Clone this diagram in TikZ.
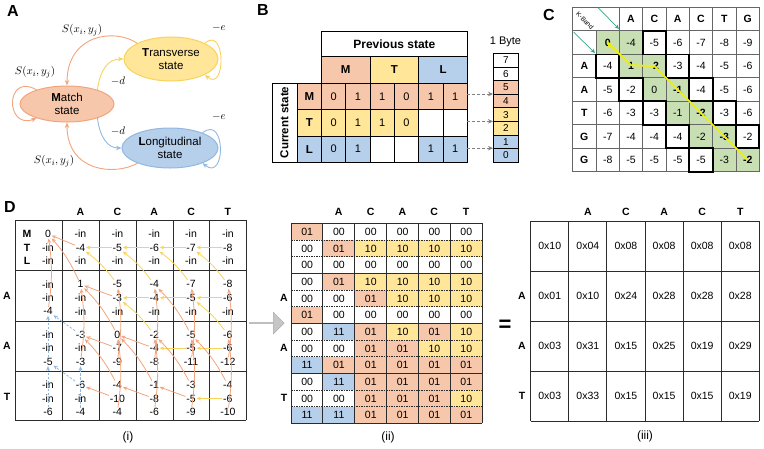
\documentclass[tikz,border=0pt]{standalone}
\usepackage{fontspec}
\setmainfont{Liberation Sans}
\usetikzlibrary{arrows.meta,shapes.geometric,shapes.arrows,calc}
\definecolor{ofill}{HTML}{F7C7AB}
\definecolor{yfill}{HTML}{FFE699}
\definecolor{bfill}{HTML}{B6CFEA}
\definecolor{gfill}{HTML}{C8DFB4}
\definecolor{oline}{HTML}{F2A47C}
\definecolor{yline}{HTML}{F8D35C}
\definecolor{bline}{HTML}{92B8E0}
\definecolor{kgreen}{HTML}{35A58A}
\definecolor{gline}{HTML}{2B2B2B}
\definecolor{tracec}{HTML}{F0F000}
\begin{document}
\begin{tikzpicture}[x=1pt,y=-1pt,
  lbl/.style={font=\fontsize{16}{16}\selectfont\bfseries, inner sep=0pt},
  ell/.style={ellipse, inner sep=0pt, line width=1pt, align=center, font=\fontsize{11.5}{13}\selectfont},
  mlab/.style={font=\fontsize{11}{13}\selectfont, inner sep=1pt},
  oarr/.style={draw=oline, line width=0.9pt, -{Stealth[length=5.5pt,width=4.5pt]}},
  yarr/.style={draw=yline, line width=0.9pt, -{Stealth[length=5.5pt,width=4.5pt]}},
  barr/.style={draw=bline, line width=0.9pt, -{Stealth[length=5.5pt,width=4.5pt]}},
  bc/.style={draw=black, line width=0.8pt, inner sep=0pt, anchor=north west, font=\fontsize{11}{13}\selectfont, minimum width=24.33pt, minimum height=26.3pt},
  bh/.style={bc, font=\fontsize{11.5}{13}\selectfont\bfseries},
  byc/.style={draw=black, line width=0.8pt, inner sep=0pt, anchor=north west, font=\fontsize{10}{12}\selectfont, minimum width=25pt, minimum height=13.6pt},
  darr/.style={draw=gray, line width=0.9pt, dash pattern=on 3pt off 2pt, -{Stealth[length=5pt,width=4.5pt]}},
  cval/.style={font=\fontsize{10.5}{12}\selectfont, inner sep=0pt},
  chd/.style={font=\fontsize{10.5}{12}\selectfont\bfseries, inner sep=0pt},
  kbarr/.style={draw=kgreen, line width=0.7pt, -{Stealth[length=4.5pt,width=4pt]}},
  dval/.style={font=\fontsize{10.5}{12}\selectfont, inner sep=0.6pt},
  dhd/.style={font=\fontsize{10.5}{12}\selectfont\bfseries, inner sep=0pt},
  do/.style={draw=oline, line width=0.8pt, -{Stealth[length=4.5pt,width=3.8pt]}},
  dy/.style={draw=yline, line width=0.8pt, -{Stealth[length=4.5pt,width=3.8pt]}},
  db/.style={draw=bline, line width=0.8pt, dash pattern=on 2.5pt off 1.5pt, -{Stealth[length=4.5pt,width=3.8pt]}},
  iic/.style={inner sep=0pt, anchor=north west, minimum width=31.83pt, minimum height=16.67pt, font=\fontsize{10.5}{12}\selectfont},
  st00/.style={fill=white}, st01/.style={fill=ofill}, st10/.style={fill=yfill}, st11/.style={fill=bfill},
  iiic/.style={inner sep=0pt, font=\fontsize{10.5}{12}\selectfont},
  gridl/.style={draw=gline, line width=0.9pt}
]
\useasboundingbox (0,0) rectangle (764,448);

% ================= Panel A =================
\node[lbl] (lA) at (13,11) {A};
\node[ell, fill=ofill, draw=oline, minimum width=94pt, minimum height=36pt] (M) at (67,104) {\textbf{M}atch\\state};
\node[ell, fill=yfill, draw=yline, minimum width=94pt, minimum height=44pt] (T) at (171,59) {\textbf{T}ransverse\\state};
\node[ell, fill=bfill, draw=bline, minimum width=96pt, minimum height=40pt] (L) at (170,148) {\textbf{L}ongitudinal\\state};
\draw[oarr] (T.155) .. controls (115,28) and (67,34) .. (M.north);
\draw[oarr] (L.205) .. controls (115,176) and (67,172) .. (M.south);
\draw[oarr] (M.155) .. controls (5,72) and (5,130) .. (M.205);
\draw[yarr] (M.25) .. controls (100,70) and (108,59) .. (T.west);
\draw[barr] (M.-25) .. controls (100,138) and (108,148) .. (L.west);
\draw[yarr] (T.25) .. controls (226,25) and (226,93) .. (T.-25);
\draw[barr] (L.25) .. controls (226,114) and (226,182) .. (L.-25);
\node[mlab] (sA1) at (82,30) {$S(x_i,y_j)$};
\node[mlab] (sA2) at (35,72) {$S(x_i,y_j)$};
\node[mlab] (sA3) at (54,161) {$S(x_i,y_j)$};
\node[mlab] (dA1) at (118,81) {$-d$};
\node[mlab] (dA2) at (118,131) {$-d$};
\node[mlab] (eA1) at (219,28) {$-e$};
\node[mlab] (eA2) at (219,117) {$-e$};

% ================= Panel B =================
\node[lbl] (lB) at (263,10) {B};
\node[draw=black, line width=0.8pt, inner sep=0pt, anchor=north west, minimum width=146pt, minimum height=25pt, font=\fontsize{12}{14}\selectfont\bfseries] (prev) at (321,31) {Previous state};
\node[bh, fill=ofill, minimum width=48.67pt, minimum height=27pt] (hM) at (321,56) {M};
\node[bh, fill=yfill, minimum width=48.67pt, minimum height=27pt] (hT) at (369.67,56) {T};
\node[bh, fill=bfill, minimum width=48.67pt, minimum height=27pt] (hL) at (418.33,56) {L};
\node[draw=black, line width=0.8pt, inner sep=0pt, rotate=90, minimum width=79pt, minimum height=25pt, font=\fontsize{11.5}{13}\selectfont\bfseries] (cur) at (284.5,122.5) {Current state};
\node[bh, fill=ofill, minimum width=24pt] (rM) at (297,83) {M};
\node[bh, fill=yfill, minimum width=24pt] (rT) at (297,109.3) {T};
\node[bh, fill=bfill, minimum width=24pt] (rL) at (297,135.6) {L};
\foreach \v/\f [count=\i from 0] in {0/ofill,1/ofill,1/ofill,0/ofill,1/ofill,1/ofill}
  \node[bc, fill=\f] (bm\i) at (321+\i*24.33,83) {\v};
\foreach \v/\f [count=\i from 0] in {0/yfill,1/yfill,1/yfill,0/yfill,/white,/white}
  \node[bc, fill=\f] (bt\i) at (321+\i*24.33,109.3) {\v};
\foreach \v/\f [count=\i from 0] in {0/bfill,1/bfill,/white,/white,1/bfill,1/bfill}
  \node[bc, fill=\f] (bl\i) at (321+\i*24.33,135.6) {\v};
\node[font=\fontsize{11}{13}\selectfont, inner sep=0pt] (byte) at (505.5,42) {1 Byte};
\foreach \v/\f [count=\i from 0] in {7/white,6/white,5/ofill,4/ofill,3/yfill,2/yfill,1/bfill,0/bfill}
  \node[byc, fill=\f] (by\i) at (493,53+\i*13.6) {\v};
\coordinate (dM) at (467,94);
\coordinate (dT) at (467,121.4);
\coordinate (dL) at (467,148.2);
\draw[darr] (dM) -- (dM -| by3.west);
\draw[darr] (dT) -- (dT -| by5.west);
\draw[darr] (dL) -- (dL -| by7.west);

% ================= Panel C =================
\node[lbl] (lC) at (549,15) {C};
\foreach \r in {0,...,5}
  \fill[gfill] (596+\r*23.33,31+\r*23.45) rectangle ++(46.66,23.45);
% grid
\foreach \k in {0,...,7} \draw[draw=gray!80!black, line width=0.8pt] (572.7,7.3+\k*23.49) -- (759.3,7.3+\k*23.49);
\foreach \k in {0,2,3,4,5,6,7,8} \draw[draw=gray!80!black, line width=0.8pt] (572.7+\k*23.33,7.3) -- (572.7+\k*23.33,171.7);
\draw[draw=gray!80!black, line width=0.8pt] (596,31) -- (596,171.7);
\foreach \h [count=\c from 1] in {A,C,A,C,T,G}
  \node[chd] (ch\c) at (607.7+\c*23.33,19.2) {\h};
\foreach \h [count=\r from 1] in {A,A,T,G,G}
  \node[chd] (cr\r) at (584.3,42.7+\r*23.45) {\h};
\foreach \row [count=\r from 0] in {{\textbf{0},-4,-5,-6,-7,-8,-9},{-4,\textbf{1},\textbf{-2},-3,-4,-5,-6},{-5,-2,0,\textbf{-1},-4,-5,-6},{-6,-3,-3,-1,\textbf{-2},-3,-6},{-7,-4,-4,-4,-2,\textbf{-3},-2},{-8,-5,-5,-5,-5,-3,\textbf{-2}}}
  \foreach \v [count=\c from 0] in \row
    \node[cval] (cc\r\c) at (607.7+\c*23.33,42.7+\r*23.45) {\v};
% thick borders: cells bordering the band
\foreach \r/\c in {0/2,1/0,1/3,2/1,2/4,3/2,3/5,4/3,4/6,5/4}
  \draw[line width=1.8pt] (596+\c*23.33,31+\r*23.45) rectangle ++(23.33,23.45);
\draw[tracec, line width=1.8pt, -{Stealth[length=6pt,width=6pt]}] (cc56.center) -- (cc12.center) -- ($(cc11.center)+(0,-1)$) -- ($(cc00.center)+(-1,-1)$);
\node[font=\fontsize{6.5}{7}\selectfont, rotate=-45, inner sep=0pt] (kb) at (585,20.5) {K-Band};
\coordinate (kb1s) at (598,7.5);
\coordinate (kb1e) at (619,29);
\coordinate (kb2s) at (573.5,32);
\coordinate (kb2e) at (595,53);
\draw[kbarr] (kb1s) -- (kb1e);
\draw[kbarr] (kb2s) -- (kb2e);

% ================= Panel D (i) =================
\node[lbl] (lD) at (10,207) {D};
\foreach \x in {15,62,99,136,173,209.5,246} \draw[gridl] (\x,220) -- (\x,420);
\foreach \y in {220,270.5,321,371,420} \draw[gridl] (15,\y) -- (246,\y);
\foreach \h [count=\c from 1] in {A,C,A,C,T}
  \node[dhd] (dih\c) at (80.5+\c*36.85-36.85,212) {\h};
\foreach \h [count=\r from 1] in {A,A,T}
  \node[dhd] (dir\r) at (7,245.5+\r*50.33) {\h};
\node[dhd] (dM0) at (27,234) {M};
\node[dhd] (dT0) at (27,247.5) {T};
\node[dhd] (dL0) at (27,261) {L};
\foreach \r/\c/\M/\T/\L in {0/0/0/-in/-in,0/1/-in/-4/-in,0/2/-in/-5/-in,0/3/-in/-6/-in,0/4/-in/-7/-in,0/5/-in/-8/-in,
  1/0/-in/-in/-4,1/1/1/-in/-in,1/2/-5/-3/-in,1/3/-4/-4/-in,1/4/-7/-5/-in,1/5/-8/-6/-in,
  2/0/-in/-in/-5,2/1/-3/-in/-3,2/2/0/-7/-9,2/3/-2/-4/-8,2/4/-5/-5/-11,2/5/-6/-6/-12,
  3/0/-in/-in/-6,3/1/-6/-in/-4,3/2/-4/-10/-4,3/3/-1/-8/-6,3/4/-3/-5/-9,3/5/-4/-6/-10}{
  \pgfmathsetmacro\xx{ifthenelse(\c==0,48,80.5+(\c-1)*36.85)}
  \pgfmathsetmacro\yy{220+\r*50.33}
  \node[dval] (m\r\c) at (\xx,\yy+14) {\M};
  \node[dval] (t\r\c) at (\xx,\yy+27.5) {\T};
  \node[dval] (l\r\c) at (\xx,\yy+41) {\L};
}
\foreach \a/\b in {t02/t01,t03/t02,t04/t03,t05/t04,t13/t12,t14/t13,t15/t14,t24/t23,t25/t24,t35/t34}
  \draw[dy] (\a) -- (\b);
\foreach \a/\b in {m12/t01,m13/t02,m14/t03,m15/t04,m23/t12,m25/t14}
  \draw[dy] (\a) to[bend right=8] (\b);
\foreach \a/\b in {t01/m00,t12/m11,t22/m21,t23/m22,t32/m31,t33/m32,t34/m33}
  \draw[do] (\a) -- (\b);
\foreach \a/\b in {l10/m00,m11/m00,l21/m11,m22/m11,l22/m12,l23/m13,m24/m13,l24/m14,l25/m15,m32/m21,l32/m22,m33/m22,l33/m23,m34/m23,l34/m24,m35/m24,l35/m25}
  \draw[do] (\a) to[bend right=8] (\b);
\foreach \a/\b in {l20/l10,m21/l10,l30/l20,m31/l20,l31/l21}
  \draw[db] (\a) -- (\b);
\node[font=\fontsize{12}{14}\selectfont] (capi) at (128,437) {(i)};

% gray arrow
\node[single arrow, draw=gray!70, fill=gray!45, minimum height=35pt, minimum width=22pt, single arrow head extend=5pt, inner sep=0pt] (garr) at (266.5,323) {};

% ================= Panel D (ii) =================
\foreach \row [count=\r from 0] in {{01,00,00,00,00,00},{00,01,10,10,10,10},{00,00,00,00,00,00},
  {00,01,10,10,10,10},{00,00,01,10,10,10},{01,00,00,00,00,00},
  {00,11,01,10,01,10},{00,00,01,01,10,10},{11,01,01,01,01,01},
  {00,11,01,01,01,01},{00,00,01,01,01,10},{11,11,01,01,01,01}}
  \foreach \v [count=\c from 0] in \row
    \node[iic, st\v] (ii\r-\c) at (291+\c*31.83,223.3+\r*16.67) {\v};
\foreach \k in {1,2,4,5,7,8,10,11}
  \draw[draw=gline, line width=0.6pt, dash pattern=on 1.5pt off 1pt] (291,223.3+\k*16.67) -- (482,223.3+\k*16.67);
\foreach \k in {0,3,6,9,12}
  \draw[gridl] (291,223.3+\k*16.67) -- (482,223.3+\k*16.67);
\foreach \k in {0,...,6}
  \draw[gridl] (291+\k*31.83,223.3) -- (291+\k*31.83,423.3);
\foreach \h [count=\c from 1] in {A,C,A,C,T}
  \node[dhd] (diih\c) at (306.9+\c*31.83,212) {\h};
\node[dhd] (diir1) at (284,298.3) {A};
\node[dhd] (diir2) at (284,348.3) {A};
\node[dhd] (diir3) at (284,398.3) {T};
\node[font=\fontsize{12}{14}\selectfont] (capii) at (388,437) {(ii)};

% equals
\node[font=\fontsize{22}{22}\selectfont\bfseries, inner sep=0pt] (eq) at (505,326) {=};

% ================= Panel D (iii) =================
\foreach \row [count=\r from 0] in {{0x10,0x04,0x08,0x08,0x08,0x08},{0x01,0x10,0x24,0x28,0x28,0x28},{0x03,0x31,0x15,0x25,0x19,0x29},{0x03,0x33,0x15,0x15,0x15,0x19}}
  \foreach \v [count=\c from 0] in \row
    \node[iiic] (iii\r-\c) at (549.75+\c*38.1,246+\r*50) {\v};
\foreach \k in {0,...,6}
  \draw[gridl] (530.7+\k*38.1,221) -- (530.7+\k*38.1,421);
\foreach \k in {0,...,4}
  \draw[gridl] (530.7,221+\k*50) -- (759.3,221+\k*50);
\foreach \h [count=\c from 1] in {A,C,A,C,T}
  \node[dhd] (diiih\c) at (549.75+\c*38.1,212) {\h};
\node[dhd] (diiir1) at (522,296) {A};
\node[dhd] (diiir2) at (522,346) {A};
\node[dhd] (diiir3) at (522,396) {T};
\node[font=\fontsize{12}{14}\selectfont] (capiii) at (645,436) {(iii)};
\end{tikzpicture}
\end{document}
